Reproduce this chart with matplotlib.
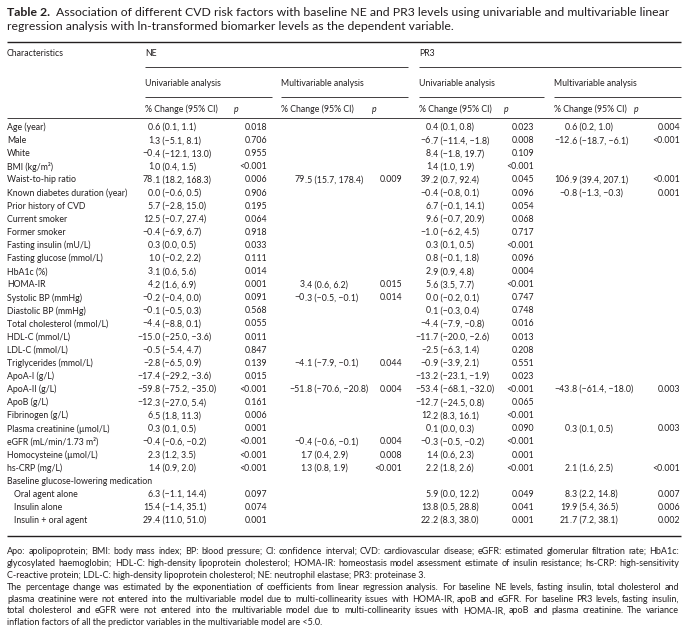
import matplotlib
matplotlib.use("Agg")
import matplotlib.pyplot as plt

plt.rcParams['font.family'] = ['Lato', 'DejaVu Sans']
INK = '#231f20'

# ---- table content ----
title_bold = "Table 2."
title_l1 = "Association of different CVD risk factors with baseline NE and PR3 levels using univariable and multivariable linear"
title_l2 = "regression analysis with ln-transformed biomarker levels as the dependent variable."

groups = ["NE", "PR3"]
subgroups = ["Univariable analysis", "Multivariable analysis"]
col_head = "% Change (95% CI)"

labels = ["Age (year)", "Male", "White", "BMI (kg/m\u00b2)", "Waist-to-hip ratio",
          "Known diabetes duration (year)", "Prior history of CVD", "Current smoker",
          "Former smoker", "Fasting insulin (mU/L)", "Fasting glucose (mmol/L)", "HbA1c (%)",
          "HOMA-IR", "Systolic BP (mmHg)", "Diastolic BP (mmHg)", "Total cholesterol (mmol/L)",
          "HDL-C (mmol/L)", "LDL-C (mmol/L)", "Triglycerides (mmol/L)", "ApoA-I (g/L)",
          "ApoA-II (g/L)", "ApoB (g/L)", "Fibrinogen (g/L)", "Plasma creatinine (\u00b5mol/L)",
          "eGFR (mL/min/1.73 m\u00b2)", "Homocysteine (\u00b5mol/L)", "hs-CRP (mg/L)",
          "Baseline glucose-lowering medication", "Oral agent alone", "Insulin alone",
          "Insulin + oral agent"]
indented = [False] * 28 + [True] * 3

M = "\u2212"
ne_uni = ["0.6 (0.1, 1.1)", "1.3 (M5.1, 8.1)", "M0.4 (M12.1, 13.0)", "1.0 (0.4, 1.5)",
          "78.1 (18.2, 168.3)", "0.0 (M0.6, 0.5)", "5.7 (M2.8, 15.0)", "12.5 (M0.7, 27.4)",
          "M0.4 (M6.9, 6.7)", "0.3 (0.0, 0.5)", "1.0 (M0.2, 2.2)", "3.1 (0.6, 5.6)",
          "4.2 (1.6, 6.9)", "M0.2 (M0.4, 0.0)", "M0.1 (M0.5, 0.3)", "M4.4 (M8.8, 0.1)",
          "M15.0 (M25.0, M3.6)", "M0.5 (M5.4, 4.7)", "M2.8 (M6.5, 0.9)", "M17.4 (M29.2, M3.6)",
          "M59.8 (M75.2, M35.0)", "M12.3 (M27.0, 5.4)", "6.5 (1.8, 11.3)", "0.3 (0.1, 0.5)",
          "M0.4 (M0.6, M0.2)", "2.3 (1.2, 3.5)", "1.4 (0.9, 2.0)", "",
          "6.3 (M1.1, 14.4)", "15.4 (M1.4, 35.1)", "29.4 (11.0, 51.0)"]
ne_uni_p = ["0.018", "0.706", "0.955", "<0.001", "0.006", "0.906", "0.195", "0.064",
            "0.918", "0.033", "0.111", "0.014", "0.001", "0.091", "0.568", "0.055",
            "0.011", "0.847", "0.139", "0.015", "<0.001", "0.161", "0.006", "0.001",
            "<0.001", "<0.001", "<0.001", "", "0.097", "0.074", "0.001"]
ne_multi = ["", "", "", "", "79.5 (15.7, 178.4)", "", "", "", "", "", "", "",
            "3.4 (0.6, 6.2)", "M0.3 (M0.5, M0.1)", "", "", "", "", "M4.1 (M7.9, M0.1)", "",
            "M51.8 (M70.6, M20.8)", "", "", "", "M0.4 (M0.6, M0.1)", "1.7 (0.4, 2.9)",
            "1.3 (0.8, 1.9)", "", "", "", ""]
ne_multi_p = ["", "", "", "", "0.009", "", "", "", "", "", "", "",
              "0.015", "0.014", "", "", "", "", "0.044", "",
              "0.004", "", "", "", "0.004", "0.008", "<0.001", "", "", "", ""]
pr3_uni = ["0.4 (0.1, 0.8)", "M6.7 (M11.4, M1.8)", "8.4 (M1.8, 19.7)", "1.4 (1.0, 1.9)",
           "39.2 (0.7, 92.4)", "M0.4 (M0.8, 0.1)", "6.7 (M0.1, 14.1)", "9.6 (M0.7, 20.9)",
           "M1.0 (M6.2, 4.5)", "0.3 (0.1, 0.5)", "0.8 (M0.1, 1.8)", "2.9 (0.9, 4.8)",
           "5.6 (3.5, 7.7)", "0.0 (M0.2, 0.1)", "0.1 (M0.3, 0.4)", "M4.4 (M7.9, M0.8)",
           "M11.7 (M20.0, M2.6)", "M2.5 (M6.3, 1.4)", "M0.9 (M3.9, 2.1)", "M13.2 (M23.1, M1.9)",
           "M53.4 (M68.1, M32.0)", "M12.7 (M24.5, 0.8)", "12.2 (8.3, 16.1)", "0.1 (0.0, 0.3)",
           "M0.3 (M0.5, M0.2)", "1.4 (0.6, 2.3)", "2.2 (1.8, 2.6)", "",
           "5.9 (0.0, 12.2)", "13.8 (0.5, 28.8)", "22.2 (8.3, 38.0)"]
pr3_uni_p = ["0.023", "0.008", "0.109", "<0.001", "0.045", "0.096", "0.054", "0.068",
             "0.717", "<0.001", "0.096", "0.004", "<0.001", "0.747", "0.748", "0.016",
             "0.013", "0.208", "0.551", "0.023", "<0.001", "0.065", "<0.001", "0.090",
             "<0.001", "0.001", "<0.001", "", "0.049", "0.041", "0.001"]
pr3_multi = ["0.6 (0.2, 1.0)", "M12.6 (M18.7, M6.1)", "", "", "106.9 (39.4, 207.1)",
             "M0.8 (M1.3, M0.3)", "", "", "", "", "", "", "", "", "", "", "", "", "", "",
             "M43.8 (M61.4, M18.0)", "", "", "0.3 (0.1, 0.5)", "", "", "2.1 (1.6, 2.5)", "",
             "8.3 (2.2, 14.8)", "19.9 (5.4, 36.5)", "21.7 (7.2, 38.1)"]
pr3_multi_p = ["0.004", "<0.001", "", "", "<0.001", "0.001", "", "", "", "", "", "", "",
               "", "", "", "", "", "", "", "0.003", "", "", "0.003", "", "", "<0.001", "",
               "0.007", "0.006", "0.002"]

footnotes = [
    "Apo: apolipoprotein; BMI: body mass index; BP: blood pressure; CI: confidence interval; CVD: cardiovascular disease; eGFR: estimated glomerular filtration rate; HbA1c:",
    "glycosylated haemoglobin; HDL-C: high-density lipoprotein cholesterol; HOMA-IR: homeostasis model assessment estimate of insulin resistance; hs-CRP: high-sensitivity",
    "C-reactive protein; LDL-C: high-density lipoprotein cholesterol; NE: neutrophil elastase; PR3: proteinase 3.",
    "The percentage change was estimated by the exponentiation of coefficients from linear regression analysis. For baseline NE levels, fasting insulin, total cholesterol and",
    "plasma creatinine were not entered into the multivariable model due to multi-collinearity issues with HOMA-IR, apoB and eGFR. For baseline PR3 levels, fasting insulin,",
    "total cholesterol and eGFR were not entered into the multivariable model due to multi-collinearity issues with HOMA-IR, apoB and plasma creatinine. The variance",
    "inflation factors of all the predictor variables in the multivariable model are <5.0.",
]
justified = [True, True, False, True, True, True, False]

columns = [(ne_uni, ne_uni_p), (ne_multi, ne_multi_p), (pr3_uni, pr3_uni_p), (pr3_multi, pr3_multi_p)]

# ---- layout (pixels) ----
W, H = 688, 630
X0, X1 = 7, 681
col_start = [145, 281, 419, 554]
rule_end = [272, 408, 544, 681]
dec_x = [153, 305, 431, 570]
p_head_x = [234, 372, 504, 634]
p_right = [267, 402, 534, 680]
ROW0, ROW_H = 127.5, 13.1

fig = plt.figure(figsize=(W / 100, H / 100), dpi=100)
ax = fig.add_axes([0, 0, 1, 1])
ax.set_xlim(0, W)
ax.set_ylim(H, 0)
ax.axis('off')
rend = fig.canvas.get_renderer()


def width(s, fs, weight='normal'):
    t = ax.text(0, 0, s, fontsize=fs, fontweight=weight)
    w = t.get_window_extent(rend).width
    t.remove()
    return w


FS = 10 * 76 / width(subgroups[0], 10)


def txt(x, y, s, fs=None, ha='left', **kw):
    ax.text(x, y, s, fontsize=fs or FS, ha=ha, va='center', color=INK, **kw)


# title
fs_t = 10 * 664 / width(title_bold + "  " + title_l1, 10)
bw = width(title_bold + "  ", fs_t, 'bold')
txt(X0, 13, title_bold, fs_t, fontweight='bold')
txt(X0 + bw, 13, title_l1, fs_t)
txt(X0, 27, title_l2, fs_t)

# header
ax.hlines(42, X0, X1, color=INK, lw=1.0)
txt(X0, 54, "Characteristics")
txt(col_start[0], 54, groups[0])
txt(col_start[2], 54, groups[1])
ax.hlines(67, col_start[0], rule_end[1], color=INK, lw=0.6)
ax.hlines(67, col_start[2], rule_end[3], color=INK, lw=0.6)
for k in range(4):
    txt(col_start[k], 83, subgroups[k % 2])
    ax.hlines(97, col_start[k], rule_end[k], color=INK, lw=0.6)
    txt(col_start[k], 109, col_head)
    txt(p_head_x[k], 109, "p", fontstyle='italic')
ax.hlines(118, X0, X1, color=INK, lw=0.6)

# body
for i, lab in enumerate(labels):
    y = ROW0 + i * ROW_H
    txt(X0 + (7 if indented[i] else 0), y, lab)
    for k, (vals, ps) in enumerate(columns):
        v = vals[i].replace("M", M)
        if v:
            j = v.index(".")
            txt(dec_x[k], y, v[:j], ha='right')
            txt(dec_x[k], y, v[j:])
        if ps[i]:
            txt(p_right[k], y, ps[i], ha='right')

y_end = ROW0 + (len(labels) - 1) * ROW_H
ax.hlines(y_end + 15, X0, X1, color=INK, lw=1.0)

# footnotes
fs_f = 10 * 660 / width(footnotes[0], 10)
fy = y_end + 31
for line, just in zip(footnotes, justified):
    if just:
        words = line.split(" ")
        ws = [width(w, fs_f) for w in words]
        gap = (X1 - 2 - X0 - sum(ws)) / (len(words) - 1)
        x = X0
        for w, wd in zip(words, ws):
            txt(x, fy, w, fs_f)
            x += wd + gap
    else:
        txt(X0, fy, line, fs_f)
    fy += 11.9

fig.savefig("out.png", dpi=100)
